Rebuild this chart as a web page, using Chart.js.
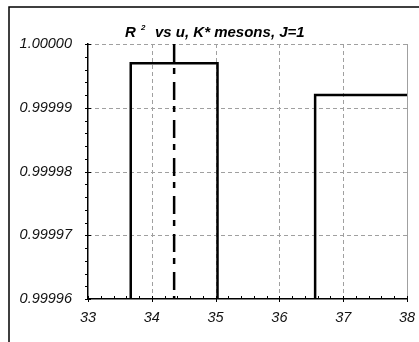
<!DOCTYPE html>
<html>
<head>
<meta charset="utf-8">
<script src="https://cdn.jsdelivr.net/npm/chart.js@4.4.1/dist/chart.umd.min.js"></script>
<style>
  html, body { margin: 0; padding: 0; background: #fff; overflow: hidden; }
  #wrap { width: 419px; height: 342px; }
</style>
</head>
<body>
<div id="wrap"><canvas id="r2-chart" width="419" height="342"></canvas></div>
<script>
// R^2 against u, K* mesons, J=1
const xTicks = [33, 34, 35, 36, 37, 38];
const yTicks = [0.99996, 0.99997, 0.99998, 0.99999, 1.00000];

// each step runs from uStart to uEnd at height r2
const uStart = [33.67, 36.56];
const uEnd = [35.03, 38.4];
const r2 = [0.999997, 0.999992];

// dash-dot marker
const uMark = [34.35];

const titleParts = ["R", "2", "vs u, K* mesons, J=1"];

const FONT = '"Liberation Sans", Arial, sans-serif';
const yMin = yTicks[0];
const yMax = yTicks[yTicks.length - 1];

let datasets = [];
for (let i = 0; i < uStart.length; i++) {
  datasets.push({
    data: [
      { x: uStart[i], y: yMin },
      { x: uStart[i], y: r2[i] },
      { x: uEnd[i], y: r2[i] },
      { x: uEnd[i], y: yMin },
    ],
    borderColor: "#000",
    borderWidth: 2.5,
    pointRadius: 0,
    showLine: true,
    tension: 0,
  });
}
// drawn top-down so the dash pattern starts at the top edge
uMark.forEach(function (u) {
  datasets.push({
    data: [
      { x: u, y: yMax },
      { x: u, y: yMin },
    ],
    borderColor: "#000",
    borderWidth: 2.5,
    borderDash: [18, 6, 6, 8],
    pointRadius: 0,
    showLine: true,
  });
});

// frame, title, dashed grid, plot edge and minor ticks
const decorations = {
  id: "decorations",
  beforeDatasetsDraw(chart) {
    const ctx = chart.ctx;
    const a = chart.chartArea;
    const xs = chart.scales.x;
    const ys = chart.scales.y;
    ctx.save();
    ctx.strokeStyle = "#a0a0a0";
    ctx.lineWidth = 1;
    ctx.setLineDash([4, 3]);
    ctx.beginPath();
    xTicks.slice(1, -1).forEach(function (v) {
      const px = Math.round(xs.getPixelForValue(v)) + 0.5;
      ctx.moveTo(px, a.top);
      ctx.lineTo(px, a.bottom);
    });
    yTicks.slice(1).forEach(function (v) {
      const py = Math.round(ys.getPixelForValue(v)) + 0.5;
      ctx.moveTo(a.left, py);
      ctx.lineTo(a.right, py);
    });
    ctx.stroke();
    ctx.setLineDash([]);
    ctx.beginPath();
    ctx.moveTo(Math.round(a.right) + 0.5, a.top);
    ctx.lineTo(Math.round(a.right) + 0.5, a.bottom);
    ctx.stroke();
    ctx.restore();
  },
  afterDraw(chart) {
    const ctx = chart.ctx;
    const a = chart.chartArea;
    const xs = chart.scales.x;
    const ys = chart.scales.y;
    ctx.save();

    // outer frame
    ctx.strokeStyle = "#000";
    ctx.lineWidth = 1.5;
    ctx.beginPath();
    ctx.moveTo(9, 342);
    ctx.lineTo(9, 7);
    ctx.lineTo(419, 7);
    ctx.stroke();

    // ticks
    ctx.lineWidth = 1;
    ctx.beginPath();
    for (let k = 0; k <= 20; k++) {
      const v = yMin + k * 0.000002;
      const py = Math.round(ys.getPixelForValue(v)) + 0.5;
      const major = k % 5 === 0;
      ctx.moveTo(a.left - 3, py);
      ctx.lineTo(a.left + (major ? 3 : 0), py);
    }
    for (let k = 0; k <= 25; k++) {
      const v = xTicks[0] + k * 0.2;
      const px = Math.round(xs.getPixelForValue(v)) + 0.5;
      const major = k % 5 === 0;
      ctx.moveTo(px, a.bottom - 3);
      ctx.lineTo(px, a.bottom + (major ? 3 : 0));
    }
    ctx.stroke();

    // title with superscript
    const big = "italic bold 15px " + FONT;
    const small = "italic bold 8px " + FONT;
    ctx.fillStyle = "#000";
    ctx.textBaseline = "alphabetic";
    const base = 37;
    ctx.font = big;
    ctx.fillText(titleParts[0], 125, base);
    ctx.font = small;
    ctx.fillText(titleParts[1], 141, base - 7);
    ctx.font = big;
    ctx.fillText(titleParts[2], 155, base);
    ctx.restore();
  },
};

new Chart(document.getElementById("r2-chart"), {
  type: "scatter",
  data: { datasets: datasets },
  plugins: [decorations],
  options: {
    responsive: false,
    animation: false,
    layout: { padding: { top: 44, right: 12, left: 0, bottom: 0 } },
    plugins: {
      legend: { display: false },
      title: { display: false },
      tooltip: { enabled: false },
    },
    scales: {
      x: {
        type: "linear",
        min: xTicks[0],
        max: xTicks[xTicks.length - 1],
        afterBuildTicks(scale) {
          scale.ticks = xTicks.map(function (v) { return { value: v }; });
        },
        afterFit(scale) {
          scale.height = 43;
          scale.paddingLeft = 0;
          scale.paddingRight = 0;
        },
        grid: { display: false, drawTicks: false },
        border: { display: true, color: "#000", width: 1.5 },
        ticks: {
          padding: 10,
          color: "#111",
          font: { family: FONT, size: 14.5, style: "italic" },
          callback: function (v) { return String(v); },
        },
      },
      y: {
        type: "linear",
        min: yMin,
        max: yMax,
        afterBuildTicks(scale) {
          scale.ticks = yTicks.map(function (v) { return { value: v }; });
        },
        afterFit(scale) {
          scale.width = 88;
          scale.paddingTop = 0;
          scale.paddingBottom = 0;
        },
        grid: { display: false, drawTicks: false },
        border: { display: true, color: "#000", width: 1.5 },
        ticks: {
          padding: 16,
          color: "#111",
          font: { family: FONT, size: 14.5, style: "italic" },
          callback: function (v) { return Number(v).toFixed(5); },
        },
      },
    },
  },
});
</script>
</body>
</html>
